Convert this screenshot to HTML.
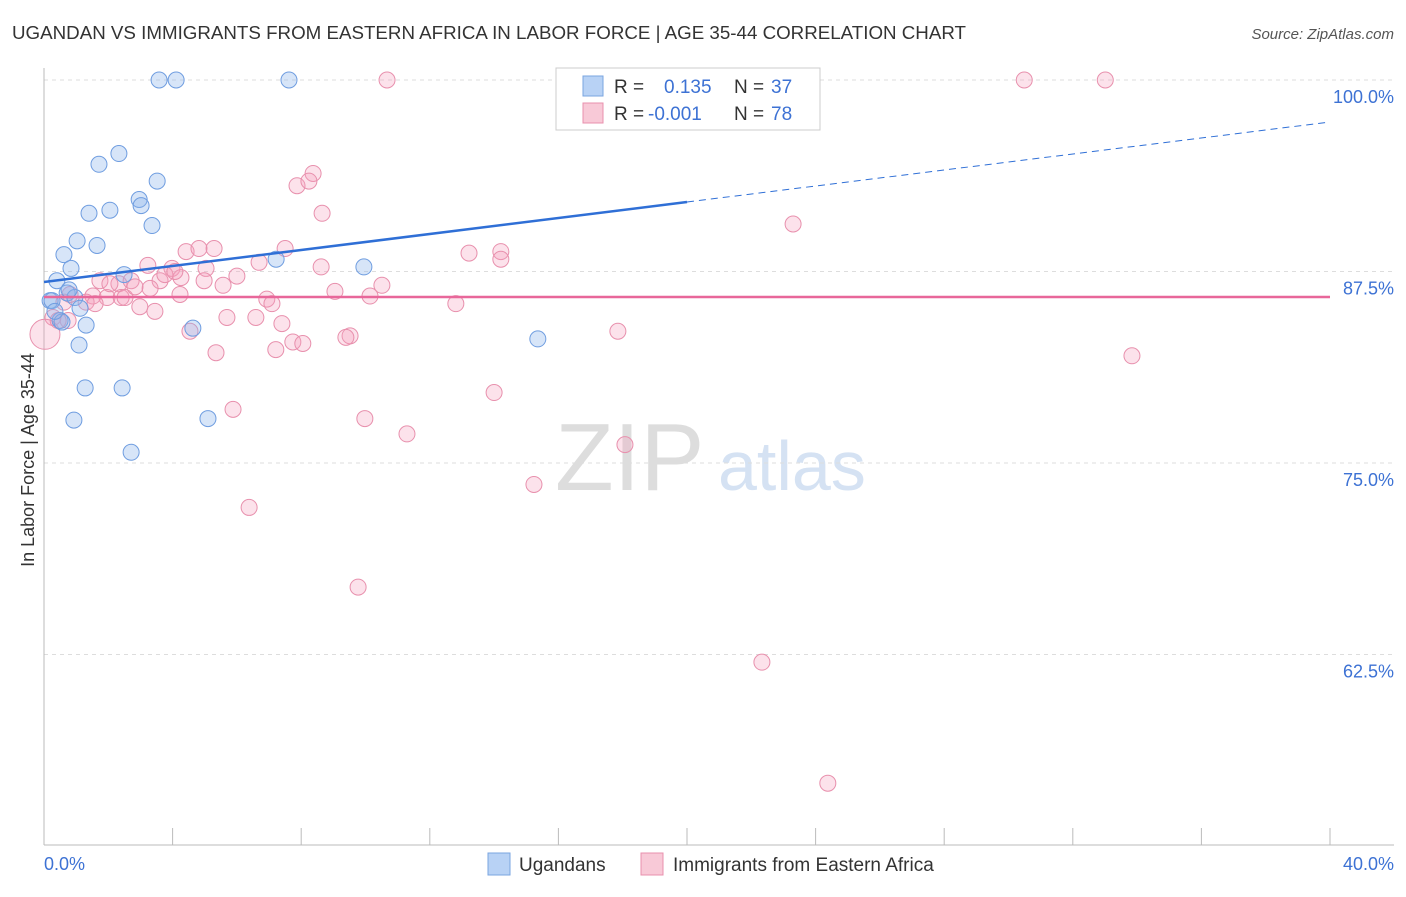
<!DOCTYPE html>
<html><head><meta charset="utf-8"><style>
body{margin:0;background:#fff;font-family:"Liberation Sans",sans-serif}
svg text{font-family:"Liberation Sans",sans-serif}
</style></head><body>
<svg id="c" width="1406" height="892">
<text x="12" y="39" font-size="18" fill="#333" textLength="954" lengthAdjust="spacingAndGlyphs">UGANDAN VS IMMIGRANTS FROM EASTERN AFRICA IN LABOR FORCE | AGE 35-44 CORRELATION CHART</text>
<text x="1394" y="39" font-size="15" fill="#555" font-style="italic" text-anchor="end">Source: ZipAtlas.com</text>
<text x="34" y="460" font-size="18" fill="#333" text-anchor="middle" transform="rotate(-90 34 460)">In Labor Force | Age 35-44</text>
<text x="555" y="490" font-size="96" fill="#ddd" font-family="Liberation Serif">ZIP</text>
<text x="718" y="490" font-size="70" fill="#d5e2f3">atlas</text>
<g id="grid"></g><g id="pts"></g><g id="lines"></g>
<g>
<rect x="556" y="68" width="264" height="62" fill="#fff" stroke="#ccc"/>
<rect x="583" y="76" width="20" height="20" fill="#b8d2f5" stroke="#7aa5e0"/>
<text x="614" y="93" font-size="19" fill="#333">R =</text><text x="664" y="93" font-size="19" fill="#3d72d4">0.135</text>
<text x="734" y="93" font-size="19" fill="#333">N =</text><text x="771" y="93" font-size="19" fill="#3d72d4">37</text>
<rect x="583" y="103" width="20" height="20" fill="#f8c9d7" stroke="#e890ad"/>
<text x="614" y="120" font-size="19" fill="#333">R =</text><text x="648" y="120" font-size="19" fill="#3d72d4">-0.001</text>
<text x="734" y="120" font-size="19" fill="#333">N =</text><text x="771" y="120" font-size="19" fill="#3d72d4">78</text>
</g>
<g>
<rect x="488" y="853" width="22" height="22" fill="#b8d2f5" stroke="#7aa5e0"/>
<text x="519" y="871" font-size="19" fill="#333">Ugandans</text>
<rect x="641" y="853" width="22" height="22" fill="#f8c9d7" stroke="#e890ad"/>
<text x="673" y="871" font-size="19" fill="#333">Immigrants from Eastern Africa</text>
</g>
<text x="44" y="870" font-size="18" fill="#3d72d4">0.0%</text>
<text x="1394" y="870" font-size="18" fill="#3d72d4" text-anchor="end">40.0%</text>
</svg>
<script>
const yTicks=[100,87.5,75,62.5];
const yTickLabels=["100.0%","87.5%","75.0%","62.5%"];
const xTicks=[0,4,8,12,16,20,24,28,32,36,40];
const blueX=[3.58,4.11,7.62,2.33,1.71,3.52,2.96,3.02,2.05,1.40,3.36,1.03,1.65,0.62,0.84,0.40,2.49,7.22,9.95,0.72,0.96,0.19,1.12,0.50,1.31,4.63,1.09,15.36,1.28,2.43,0.93,5.10,2.71,0.25,0.56,0.78,0.34];
const blueY=[100,100,100,95.2,94.5,93.4,92.2,91.8,91.5,91.3,90.5,89.5,89.2,88.6,87.7,86.9,87.3,88.3,87.8,86.1,85.8,85.6,85.1,84.3,84.0,83.8,82.7,83.1,79.9,79.9,77.8,77.9,75.7,85.6,84.2,86.3,84.9];
const pinkX=[10.67,16.55,23.27,30.49,33.01,8.37,7.87,8.24,8.65,23.30,4.42,5.29,4.82,7.50,13.22,14.21,14.21,3.23,3.98,5.04,6.69,8.62,1.74,2.33,2.71,3.61,4.26,3.76,4.98,6.00,5.57,10.51,9.05,10.14,1.52,1.96,2.40,0.62,1.31,2.98,3.45,6.93,7.09,12.81,5.69,6.59,7.40,0.28,0.75,4.54,9.52,9.39,7.74,8.05,7.21,5.35,17.85,33.84,14.00,5.88,9.98,11.29,18.07,15.24,6.38,9.77,22.33,24.38,0.03,0.44,0.81,2.05,2.52,3.30,4.23,1.59,2.83,4.07];
const pinkY=[100,100,100,100,100,93.9,93.1,93.4,91.3,90.6,88.8,89.0,89.0,89.0,88.7,88.8,88.3,87.9,87.7,87.7,88.1,87.8,86.9,86.7,86.9,86.9,87.1,87.3,86.9,87.2,86.6,86.6,86.2,85.9,85.9,85.8,85.8,85.5,85.5,85.2,84.9,85.7,85.4,85.4,84.5,84.5,84.1,84.5,84.3,83.6,83.3,83.2,82.9,82.8,82.4,82.2,83.6,82.0,79.6,78.5,77.9,76.9,76.2,73.6,72.1,66.9,62.0,54.1,83.4,84.3,86.0,86.7,85.8,86.4,86.0,85.4,86.5,87.5];
const NS="http://www.w3.org/2000/svg";
const X=v=>44+v/40*1286, Y=v=>80+(100-v)*15.32;
function mk(t,a,p){const e=document.createElementNS(NS,t);for(const k in a)e.setAttribute(k,a[k]);p.appendChild(e);return e;}
const g=document.getElementById('grid');
yTicks.forEach((v,i)=>{
 const l=mk('line',{x1:44,x2:1394,y1:Y(v),y2:Y(v),stroke:'#ddd','stroke-dasharray':'4,4'},g);
 
 
 const t=mk('text',{x:1394,y:Y(v)+23,'font-size':18,fill:'#3d72d4','text-anchor':'end'},g);
 t.textContent=yTickLabels[i];
 
 
});
mk('line',{x1:44,x2:44,y1:68,y2:845,stroke:'#bbb'},g);
mk('line',{x1:44,x2:1394,y1:845,y2:845,stroke:'#bbb'},g);
xTicks.forEach(v=>{const l=mk('line',{x1:X(v),x2:X(v),y1:828,y2:845,stroke:'#bbb'},g);
 
 });
const p=document.getElementById('pts');
pinkX.forEach((x,i)=>{const c=mk('circle',{cx:X(x),cy:Y(pinkY[i]),r:(i==68?15:8),fill:'rgba(244,160,190,0.3)',stroke:'#e890ad','stroke-width':1},p);
 
 });
blueX.forEach((x,i)=>{const c=mk('circle',{cx:X(x),cy:Y(blueY[i]),r:8,fill:'rgba(140,180,235,0.35)',stroke:'#6f9de0','stroke-width':1},p);
 
 });
const L=document.getElementById('lines');
const bl=mk('line',{x1:X(0),y1:282,x2:X(20),y2:202,stroke:'#2f6fd6','stroke-width':2.5},L);


const bd=mk('line',{x1:X(20),y1:202,x2:X(40),y2:122,stroke:'#2f6fd6','stroke-width':1,'stroke-dasharray':'7,5'},L);


const pl=mk('line',{x1:X(0),y1:297,x2:X(40),y2:297,stroke:'#e8679a','stroke-width':2.5},L);


</script>
</body></html>
